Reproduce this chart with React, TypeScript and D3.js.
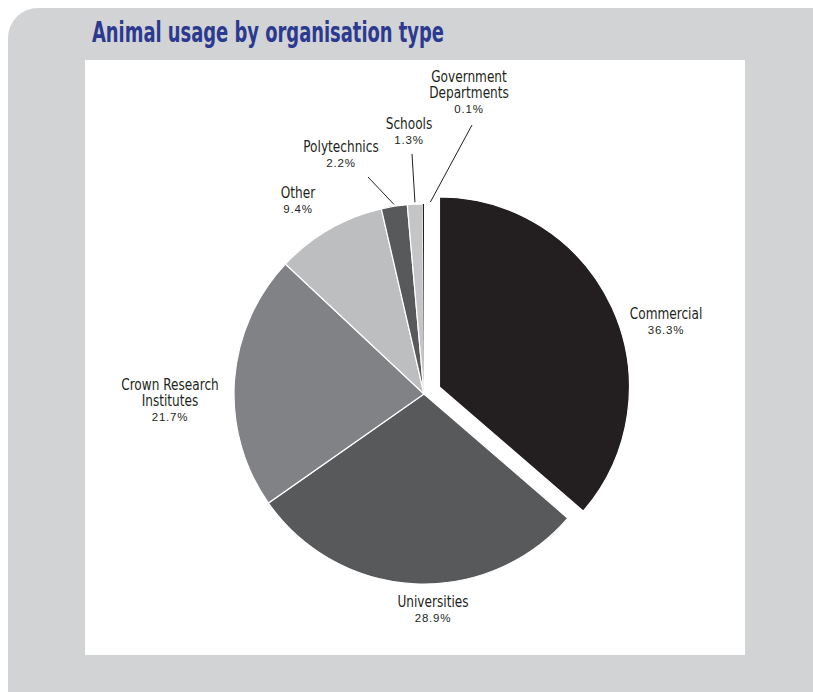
import React from "react";
import * as d3 from "d3";

const categories = ["Commercial", "Universities", "Crown Research Institutes", "Other", "Polytechnics", "Schools", "Government Departments"];
const values = [36.3, 28.9, 21.7, 9.4, 2.2, 1.3, 0.1];
const percentLabels = ["36.3%", "28.9%", "21.7%", "9.4%", "2.2%", "1.3%", "0.1%"];
const nameLines = [["Commercial"], ["Universities"], ["Crown Research", "Institutes"], ["Other"], ["Polytechnics"], ["Schools"], ["Government", "Departments"]];
const colors = ["#231f20", "#58595b", "#808285", "#bcbec0", "#58595b", "#c4c5c7", "#231f20"];

// layout (not data)
const W = 813, H = 692;
const cx = 424, cy = 394, R = 190;
const explode = [17, 0, 0, 0, 0, 0, 0];
const labelPos: [number, number][] = [
  [666, 319], [433, 607], [170, 390], [298, 198], [341, 152], [409, 129], [469, 82],
];
const leaderStart: ([number, number] | null)[] = [null, null, null, null, [368, 177], [412, 154], [472, 125]];
const leaderEndShift = [0, 0, 0, 0, 0, 0, 7];

const nameFont = "'DejaVu Sans Condensed', 'Liberation Sans Narrow', sans-serif";
const pctFont = "'Liberation Sans', 'DejaVu Sans', sans-serif";

export default function App() {
  const pie = d3.pie<number>().sort(null).value((d) => d);
  const arcs = pie(values);
  const arcGen = d3.arc<d3.PieArcDatum<number>>().innerRadius(0).outerRadius(R);
  const edgeArc = d3.arc<d3.PieArcDatum<number>>().innerRadius(R + 2).outerRadius(R + 2);

  return (
    <svg width={W} height={H} style={{ position: "absolute", left: 0, top: 0 }}>
      <rect x={0} y={0} width={W} height={H} fill="#ffffff" />
      <rect x={8} y={8} width={W - 8 + 30} height={H + 30} rx={30} ry={30} fill="#d1d3d4" />
      <rect x={85} y={60} width={660} height={595} fill="#ffffff" />
      <text x={92} y={42} fill="#2b3990" fontFamily={nameFont} fontWeight="bold" fontSize={29}
        textLength={352} lengthAdjust="spacingAndGlyphs">
        Animal usage by organisation type
      </text>
      <g transform={`translate(${cx},${cy})`}>
        {arcs.map((a, i) => {
          const mid = (a.startAngle + a.endAngle) / 2;
          const dx = Math.sin(mid) * explode[i];
          const dy = -Math.cos(mid) * explode[i];
          return (
            <path
              key={categories[i]}
              d={arcGen(a) || ""}
              transform={`translate(${dx},${dy})`}
              fill={colors[i]}
              stroke="#ffffff"
              strokeWidth={i === 6 ? 0 : 1.2}
            />
          );
        })}
      </g>
      {arcs.map((a, i) => {
        const s = leaderStart[i];
        if (!s) return null;
        const [ex, ey] = edgeArc.centroid(a);
        return <line key={"l" + i} x1={s[0]} y1={s[1]} x2={cx + ex + leaderEndShift[i]} y2={cy + ey} stroke="#231f20" strokeWidth={1} />;
      })}
      {arcs.map((a, i) => {
        const [lx, ly] = labelPos[i];
        const lines = nameLines[i];
        return (
          <g key={"t" + i} fill="#231f20" textAnchor="middle" transform={`translate(${lx},${ly})`}>
            {lines.map((ln, j) => (
              <text key={j} x={0} y={j * 16.5} fontFamily={nameFont} fontSize={15} transform="scale(0.9,1)">
                {ln}
              </text>
            ))}
            <text x={0} y={lines.length * 16 - 1} fontFamily={pctFont} fontSize={11.5} letterSpacing={0.8}>
              {percentLabels[i]}
            </text>
          </g>
        );
      })}
    </svg>
  );
}
